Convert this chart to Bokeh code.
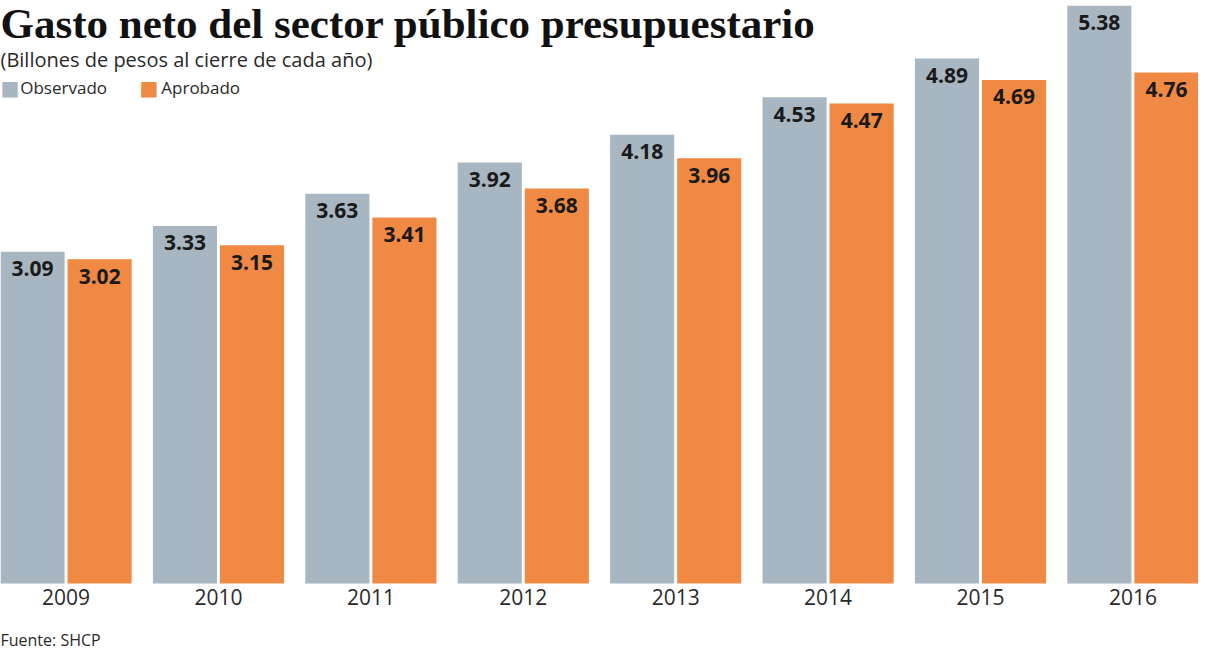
from bokeh.plotting import figure
from bokeh.models import ColumnDataSource, LabelSet, Label, Range1d
from bokeh.core.properties import value
from bokeh.embed import file_html
from bokeh.resources import INLINE

years = ["2009", "2010", "2011", "2012", "2013", "2014", "2015", "2016"]
observado = [3.09, 3.33, 3.63, 3.92, 4.18, 4.53, 4.89, 5.38]
aprobado = [3.02, 3.15, 3.41, 3.68, 3.96, 4.47, 4.69, 4.76]

GRAY = "#a7b6c0"
ORANGE = "#f08943"
TXT = "#1a1a1a"

W, H = 1198, 650
idx = list(range(len(years)))

# reference-pixel helpers (pitch 154.5 px per group, 110 px per unit)
def rx(px):
    return -0.4304 + px / 154.5

def ry(py):
    return (597 - py) / 110.0

p = figure(width=W, height=H, output_backend="svg", toolbar_location=None,
           x_range=Range1d(-0.4304, 7.4304), y_range=Range1d(-0.624, 5.43),
           min_border_left=0, min_border_right=0, min_border_top=0, min_border_bottom=0)
p.outline_line_color = None
p.grid.visible = False
p.axis.visible = False
p.background_fill_color = "white"
p.border_fill_color = "white"

off = 34 / 154.5
bw = 65 / 154.5
src_o = ColumnDataSource(dict(x=[i - off for i in idx], top=observado,
                              lab=[f"{v:.2f}" for v in observado]))
src_a = ColumnDataSource(dict(x=[i + off for i in idx], top=aprobado,
                              lab=[f"{v:.2f}" for v in aprobado]))
p.vbar(x="x", top="top", bottom=0, width=bw, source=src_o, fill_color=GRAY, line_color=None)
p.vbar(x="x", top="top", bottom=0, width=bw, source=src_a, fill_color=ORANGE, line_color=None)

for src in (src_o, src_a):
    p.add_layout(LabelSet(x="x", y="top", text="lab", source=src, text_align="center",
                          text_baseline="middle", y_offset=-17,
                          text_font=value("Open Sans"), text_font_style="bold",
                          text_font_size=value("21px"), text_color=TXT))

# category (year) labels under each group
src_y = ColumnDataSource(dict(x=idx, y=[0] * len(idx), lab=years))
p.add_layout(LabelSet(x="x", y="y", text="lab", source=src_y, text_align="center",
                      text_baseline="middle", y_offset=-13,
                      text_font=value("Open Sans"), text_font_size=value("21px"),
                      text_color="#2a2a2a"))

p.add_layout(Label(x=rx(0), y=ry(23), text="Gasto neto del sector público presupuestario",
                   text_font="Liberation Serif", text_font_style="bold", text_font_size="43px",
                   text_color="#111111", text_baseline="alphabetic"))
p.add_layout(Label(x=rx(0), y=ry(60), text="(Billones de pesos al cierre de cada año)",
                   text_font="Open Sans", text_font_size="20px", text_color="#2a2a2a",
                   text_baseline="middle"))
# legend
p.add_layout(Label(x=rx(0), y=ry(89), text="■", text_font="DejaVu Sans",
                   text_font_size="20px", text_color=GRAY, text_baseline="middle"))
p.add_layout(Label(x=rx(20), y=ry(89), text="Observado", text_font="Open Sans",
                   text_font_size="17px", text_color="#2a2a2a", text_baseline="middle"))
p.add_layout(Label(x=rx(141), y=ry(89), text="■", text_font="DejaVu Sans",
                   text_font_size="20px", text_color=ORANGE, text_baseline="middle"))
p.add_layout(Label(x=rx(163), y=ry(89), text="Aprobado", text_font="Open Sans",
                   text_font_size="17px", text_color="#2a2a2a", text_baseline="middle"))

p.add_layout(Label(x=rx(0), y=ry(655), text="Fuente: SHCP", text_font="Open Sans",
                   text_font_size="16px", text_color="#2a2a2a", text_baseline="middle"))

open("out.html", "w").write(file_html(p, INLINE))
